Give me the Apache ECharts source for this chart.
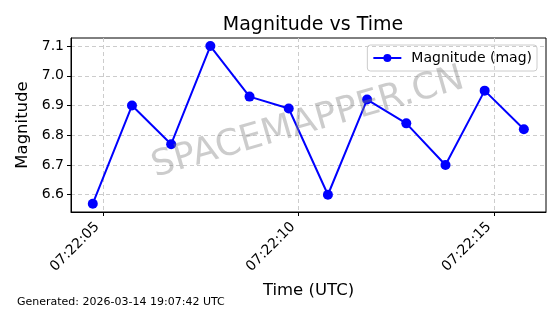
<!DOCTYPE html>
<html><head><meta charset="utf-8">
<script src="https://cdn.jsdelivr.net/npm/echarts@6/dist/echarts.min.js"></script>
<style>html,body{margin:0;padding:0;background:#fff}#c{width:560px;height:314px}</style>
</head><body><div id="c"></div>
<script>
const times = ["07:22:04.745","07:22:05.745","07:22:06.745","07:22:07.745","07:22:08.745","07:22:09.745","07:22:10.745","07:22:11.745","07:22:12.745","07:22:13.745","07:22:14.745","07:22:15.745"];
const magnitudes = [6.57, 6.90, 6.77, 7.10, 6.93, 6.89, 6.60, 6.92, 6.84, 6.70, 6.95, 6.82];
const xTickLabels = ["07:22:05","07:22:10","07:22:15"];
const yTickValues = [6.6, 6.7, 6.8, 6.9, 7.0, 7.1];

function toSec(s){const p=s.split(':');return (+p[0])*3600+(+p[1])*60+parseFloat(p[2]);}
function fmt(v){v=Math.round(v);const h=Math.floor(v/3600),m=Math.floor(v%3600/60),s=v%60;const z=n=>String(n).padStart(2,'0');return z(h)+':'+z(m)+':'+z(s);}
const xTicks = xTickLabels.map(toSec);
const data = times.map((t,i)=>[toSec(t), magnitudes[i]]);
const font = 'DejaVu Sans';
const chart = echarts.init(document.getElementById('c'), null, {renderer:'canvas'});
chart.setOption({
  animation:false,
  backgroundColor:'#fff',
  title:{text:'Magnitude vs Time',left:308,textAlign:'center',top:11,textStyle:{fontFamily:font,fontSize:19,fontWeight:'normal',color:'#000'}},
  legend:{right:23,top:45,itemWidth:28,itemHeight:10,padding:[6,5,6,5],borderColor:'#ccc',borderWidth:1,borderRadius:3,
    textStyle:{fontFamily:font,fontSize:14,color:'#000',padding:[0,0,0,5]},data:['Magnitude (mag)']},
  grid:{left:71,top:38,width:475,height:174,show:true,borderColor:'#000',borderWidth:1,backgroundColor:'transparent'},
  xAxis:{type:'value',min:xTicks[0]-0.811,max:xTicks[0]+11.31,
    name:'Time (UTC)',nameLocation:'middle',nameGap:70,nameTextStyle:{fontFamily:font,fontSize:16.5,color:'#000'},
    axisLine:{show:true,lineStyle:{color:'#000'}},
    axisTick:{show:true,customValues:xTicks,length:4,lineStyle:{color:'#000'}},
    axisLabel:{customValues:xTicks,rotate:45,margin:7,padding:[0,8,0,0],formatter:fmt,fontFamily:font,fontSize:14,color:'#000'},
    splitLine:{show:true,lineStyle:{color:'#ccc',type:[4,3],width:1}}},
  yAxis:{type:'value',min:6.542,max:7.127,
    name:'Magnitude',nameLocation:'middle',nameGap:38,nameTextStyle:{fontFamily:font,fontSize:16.5,color:'#000'},
    axisLine:{show:true,lineStyle:{color:'#000'}},
    axisTick:{show:true,customValues:yTickValues,length:4,lineStyle:{color:'#000'}},
    axisLabel:{customValues:yTickValues,margin:7,formatter:v=>v.toFixed(1),fontFamily:font,fontSize:14,color:'#000'},
    splitLine:{show:true,lineStyle:{color:'#ccc',type:[4,3],width:1}}},
  graphic:[
    {type:'text',left:17,top:297,style:{text:'Generated: 2026-03-14 19:07:42 UTC',fontFamily:font,fontSize:11,fill:'#000'}},
    {type:'text',x:308,y:123,rotation:0.28,z:100,style:{text:'SPACEMAPPER.CN',fontFamily:font,fontSize:36,fill:'rgba(128,128,128,0.4)',align:'center',verticalAlign:'middle'}}
  ],
  series:[{name:'Magnitude (mag)',type:'line',data:data,symbol:'circle',symbolSize:10,
    itemStyle:{color:'#0000ff'},lineStyle:{color:'#0000ff',width:2}}]
});
</script></body></html>
